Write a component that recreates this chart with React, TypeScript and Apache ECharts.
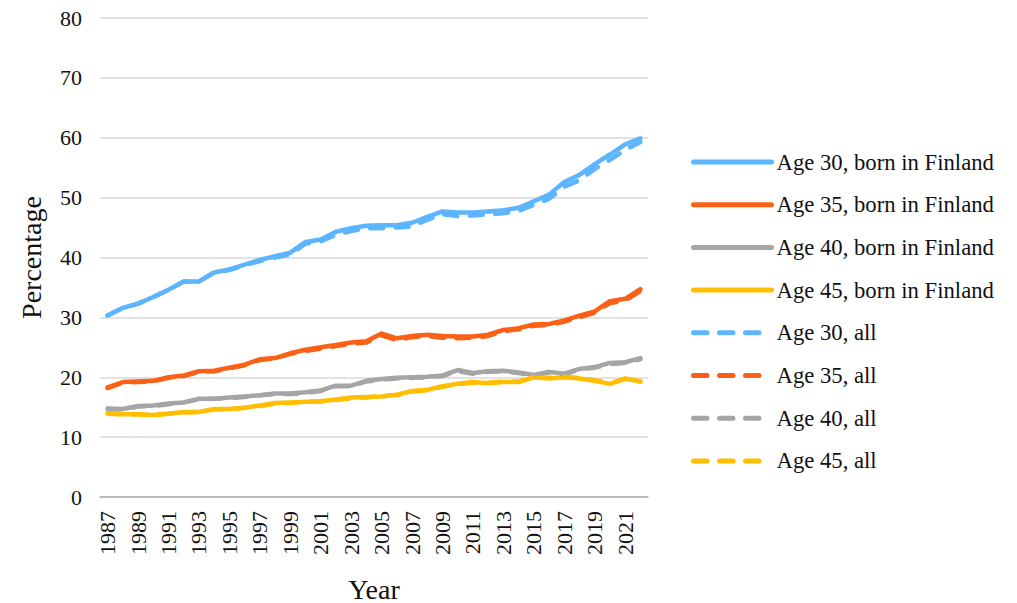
import React, { useEffect, useRef } from "react";
import * as echarts from "echarts";

const years = [
  "1987","1988","1989","1990","1991","1992","1993","1994","1995","1996","1997","1998",
  "1999","2000","2001","2002","2003","2004","2005","2006","2007","2008","2009","2010",
  "2011","2012","2013","2014","2015","2016","2017","2018","2019","2020","2021","2022",
];

const age30Fin = [30.3, 31.6, 32.3, 33.4, 34.6, 36.0, 36.0, 37.5, 38.0, 38.8, 39.6, 40.2, 40.8, 42.6, 43.0, 44.3, 44.9, 45.3, 45.4, 45.4, 45.8, 46.8, 47.7, 47.5, 47.5, 47.7, 47.9, 48.3, 49.4, 50.5, 52.6, 53.8, 55.6, 57.2, 58.9, 59.9];
const age35Fin = [18.3, 19.2, 19.3, 19.4, 20.0, 20.3, 21.0, 21.1, 21.6, 22.1, 23.0, 23.2, 24.0, 24.6, 25.0, 25.4, 25.8, 26.0, 27.3, 26.5, 26.9, 27.1, 26.9, 26.8, 26.8, 27.1, 27.9, 28.2, 28.8, 28.9, 29.5, 30.3, 31.0, 32.7, 33.1, 34.7];
const age40Fin = [14.8, 14.7, 15.2, 15.3, 15.6, 15.8, 16.4, 16.4, 16.6, 16.8, 17.0, 17.3, 17.3, 17.5, 17.8, 18.6, 18.6, 19.4, 19.7, 19.9, 20.0, 20.1, 20.3, 21.2, 20.7, 21.0, 21.1, 20.8, 20.4, 20.9, 20.6, 21.4, 21.7, 22.4, 22.5, 23.2];
const age45Fin = [14.0, 13.8, 13.8, 13.7, 13.9, 14.2, 14.2, 14.7, 14.7, 14.9, 15.3, 15.7, 15.8, 15.9, 16.0, 16.3, 16.6, 16.7, 16.8, 17.1, 17.7, 17.9, 18.5, 18.9, 19.2, 19.0, 19.2, 19.2, 20.0, 19.8, 20.0, 19.8, 19.4, 18.9, 19.8, 19.3];

const age30All = [30.3, 31.6, 32.3, 33.4, 34.6, 36.0, 36.0, 37.5, 37.9, 38.7, 39.4, 40.0, 40.5, 42.3, 42.7, 43.8, 44.4, 44.9, 44.9, 45.0, 45.2, 46.3, 47.2, 46.9, 47.0, 47.2, 47.4, 47.8, 48.8, 49.8, 51.8, 52.9, 54.8, 56.3, 58.0, 59.3];
const age35All = [18.2, 19.1, 19.2, 19.3, 19.9, 20.2, 20.9, 21.0, 21.5, 22.0, 22.9, 23.1, 23.9, 24.4, 24.8, 25.2, 25.6, 25.8, 27.0, 26.2, 26.7, 26.9, 26.6, 26.5, 26.6, 26.9, 27.7, 28.0, 28.6, 28.7, 29.3, 30.0, 30.8, 32.4, 32.8, 34.4];
const age40All = [14.7, 14.6, 15.1, 15.2, 15.5, 15.8, 16.3, 16.4, 16.5, 16.7, 17.0, 17.2, 17.2, 17.4, 17.7, 18.5, 18.5, 19.3, 19.6, 19.8, 19.9, 20.0, 20.2, 21.0, 20.6, 20.9, 21.0, 20.7, 20.3, 20.8, 20.5, 21.3, 21.6, 22.2, 22.4, 23.0];
const age45All = [13.9, 13.8, 13.8, 13.7, 13.9, 14.1, 14.2, 14.6, 14.7, 14.9, 15.2, 15.6, 15.7, 15.9, 16.0, 16.2, 16.5, 16.6, 16.9, 17.0, 17.6, 17.8, 18.4, 18.8, 19.1, 19.1, 19.3, 19.3, 19.9, 19.9, 20.1, 19.9, 19.5, 19.0, 19.7, 19.3];

const names = [
  "Age 30, born in Finland",
  "Age 35, born in Finland",
  "Age 40, born in Finland",
  "Age 45, born in Finland",
  "Age 30, all",
  "Age 35, all",
  "Age 40, all",
  "Age 45, all",
];
const colors = ["#5CB5FE", "#FA6117", "#A5A5A5", "#FFBE00"];

export default function App() {
  const ref = useRef<HTMLDivElement>(null);
  useEffect(() => {
    if (!ref.current) return;
    const chart = echarts.init(ref.current, null, { renderer: "svg" });
    const font = "Liberation Serif";
    const dash = [13, 12.5];
    const legendDash = [13.5, 12.5, 13.5, 12.5, 13.5, 40];
    const datasets = [age30Fin, age35Fin, age40Fin, age45Fin, age30All, age35All, age40All, age45All];
    const series = datasets.map((d, i) => ({
      name: names[i],
      type: "line",
      data: d,
      symbol: "none",
      smooth: false,
      color: colors[i % 4],
      lineStyle: {
        width: 4.5,
        color: colors[i % 4],
        type: i < 4 ? "solid" : dash,
        cap: "round",
        join: "round",
      },
    }));
    chart.setOption({
      animation: false,
      backgroundColor: "#ffffff",
      grid: {
        left: 100,
        right: 369,
        top: 18,
        bottom: 106,
        containLabel: false,
        outerBoundsMode: "none",
      },
      legend: {
        orient: "vertical",
        left: 686,
        top: 145,
        itemWidth: 78,
        itemHeight: 14,
        itemGap: 18.7,
        data: names.map((n, i) => ({
          name: n,
          lineStyle: i < 4 ? { type: "solid" } : { type: legendDash },
        })),
        itemStyle: { opacity: 0 },
        lineStyle: { width: 5, cap: "round" },
        textStyle: { fontFamily: font, fontSize: 22.7, lineHeight: 24, color: "#111" },
      },
      xAxis: {
        type: "category",
        data: years,
        boundaryGap: true,
        axisLine: { show: true, lineStyle: { color: "#b0b0b0", width: 1.5 } },
        axisTick: { show: false },
        axisLabel: {
          interval: 1,
          rotate: 90,
          fontFamily: font,
          fontSize: 22,
          color: "#111",
          margin: 14,
        },
        name: "Year",
        nameLocation: "middle",
        nameGap: 78,
        nameTextStyle: { fontFamily: font, fontSize: 28, color: "#111" },
      },
      yAxis: {
        type: "value",
        min: 0,
        max: 80,
        interval: 10,
        axisLine: { show: false },
        axisTick: { show: false },
        splitLine: { lineStyle: { color: "#d9d9d9", width: 1.5 } },
        axisLabel: { fontFamily: font, fontSize: 22, color: "#111", margin: 18 },
        name: "Percentage",
        nameLocation: "middle",
        nameGap: 55,
        nameRotate: 90,
        nameTextStyle: { fontFamily: font, fontSize: 28, color: "#111" },
      },
      series,
    });
    return () => chart.dispose();
  }, []);
  return (
    <div
      ref={ref}
      style={{ position: "fixed", left: 0, top: 0, width: 1017, height: 603 }}
    />
  );
}
